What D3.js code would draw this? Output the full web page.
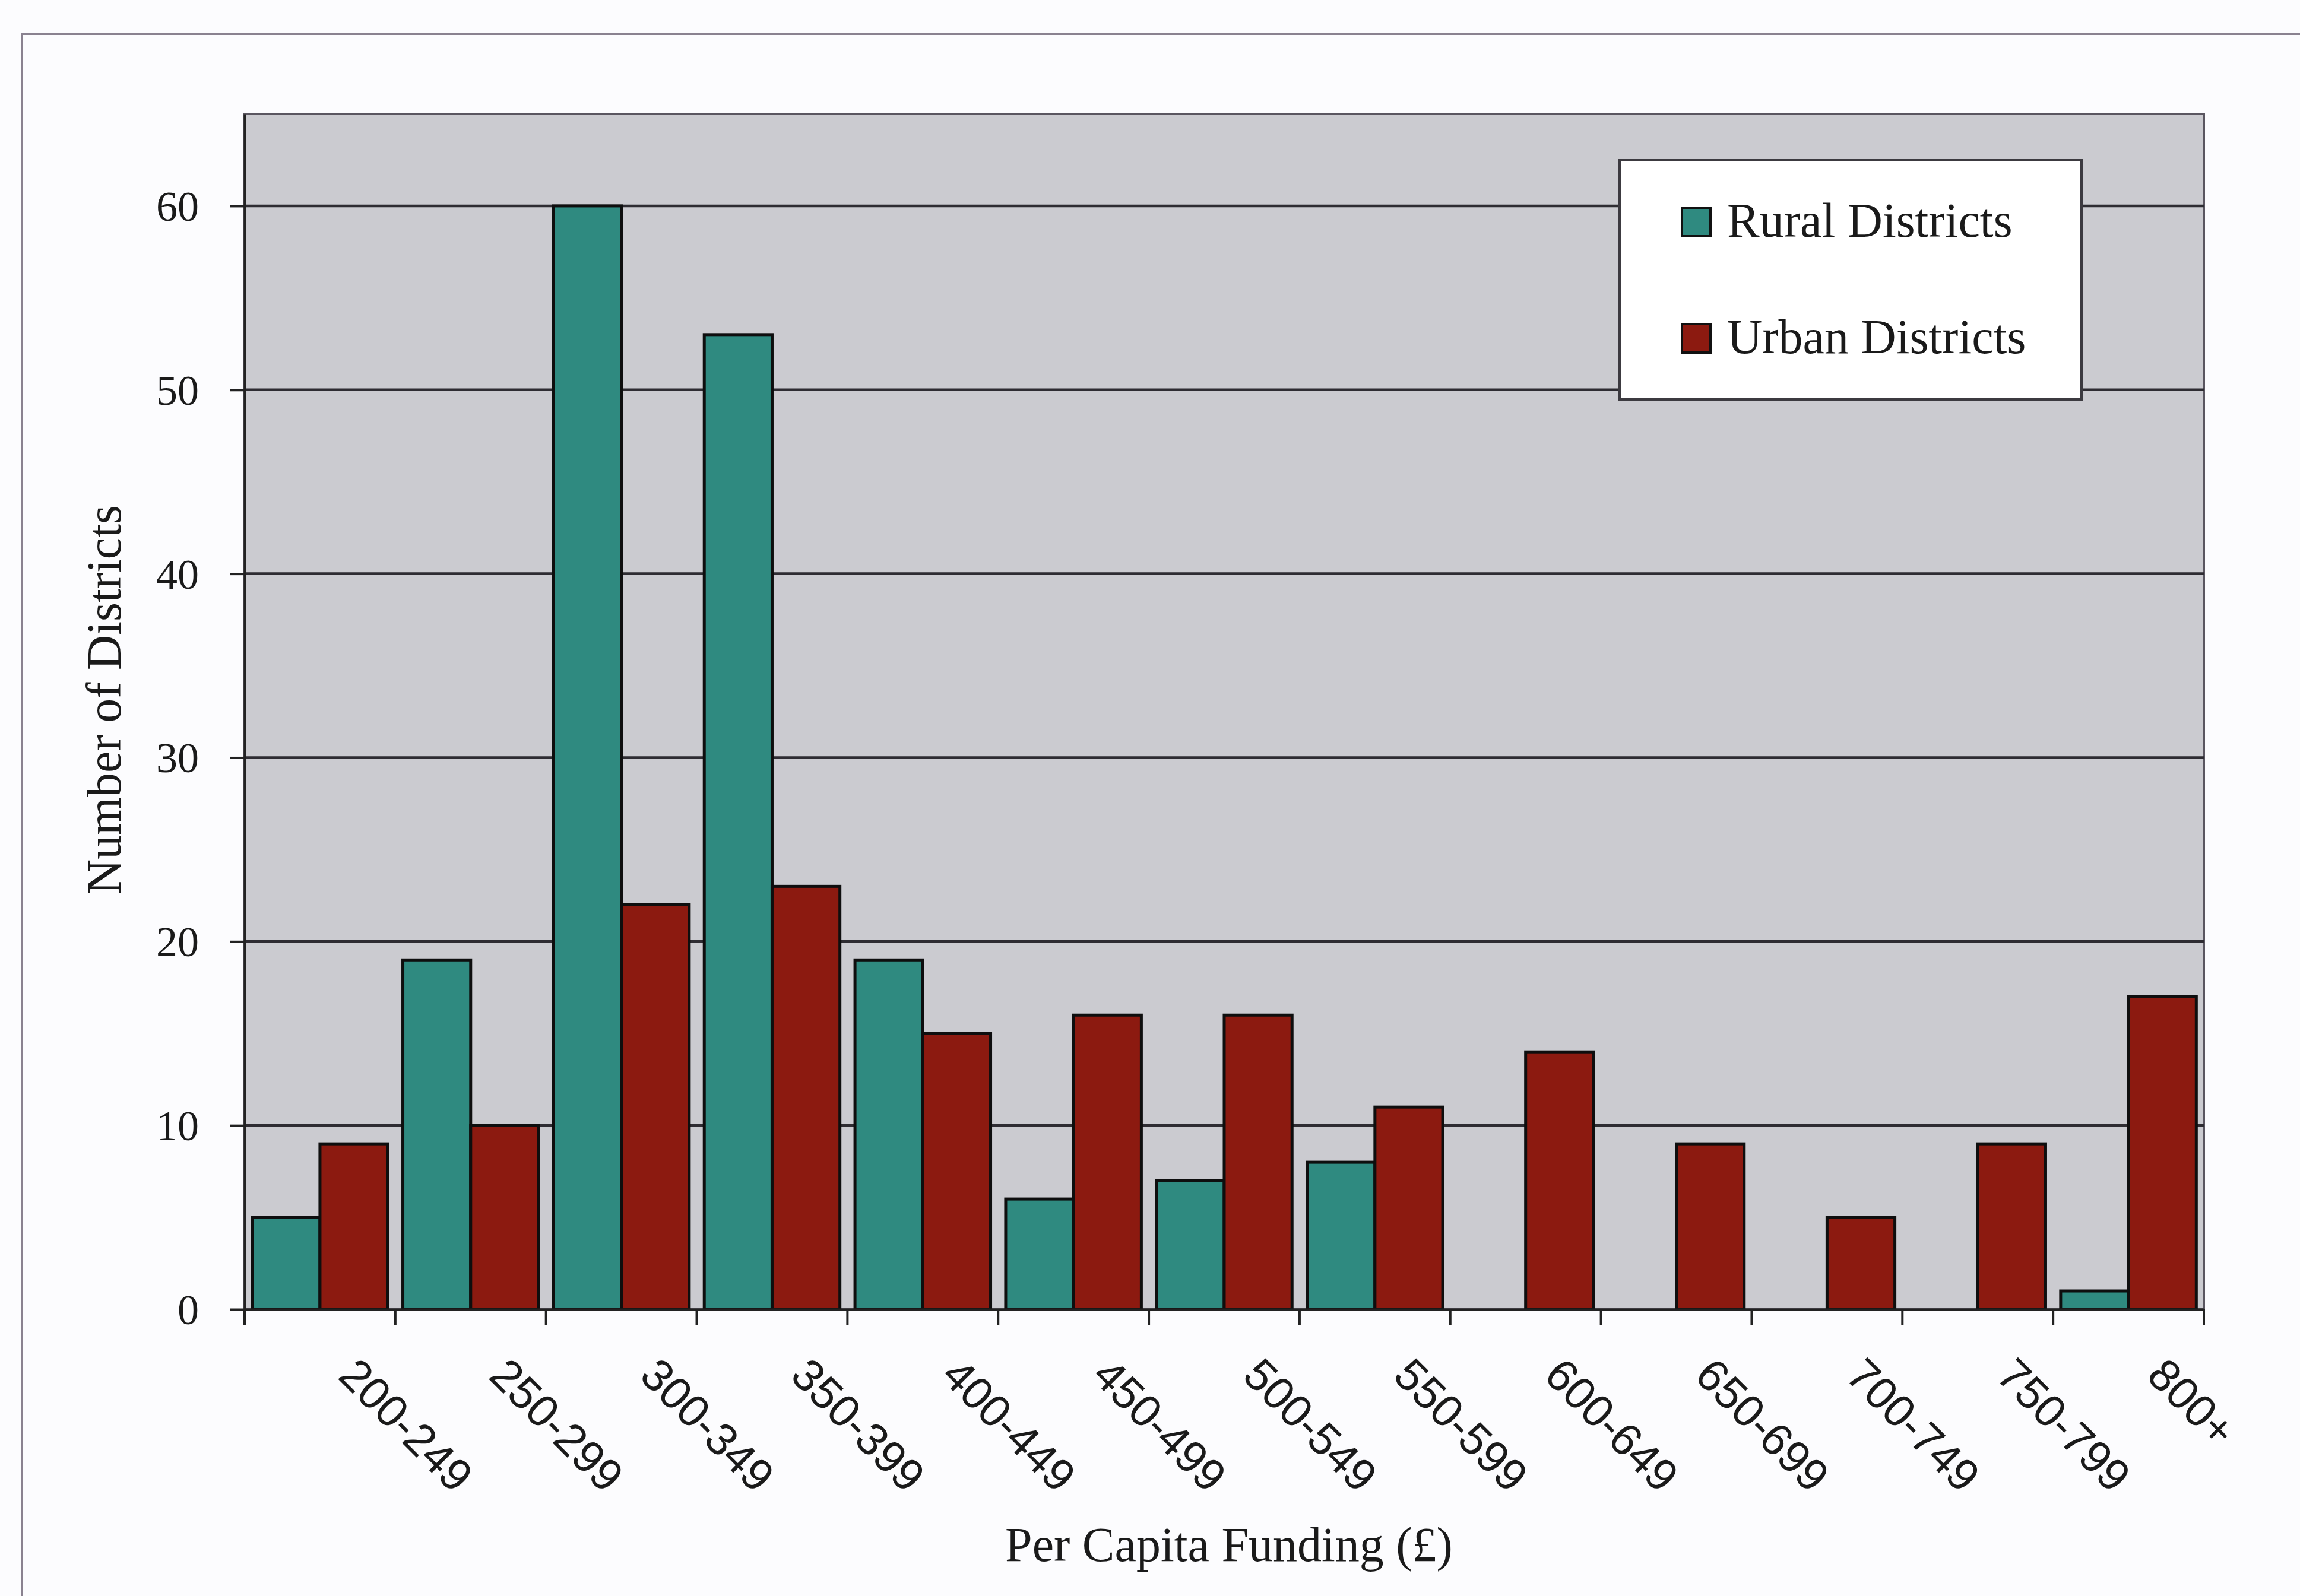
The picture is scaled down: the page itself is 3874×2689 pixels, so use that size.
<!DOCTYPE html>
<html>
<head>
<meta charset="utf-8">
<script src="https://cdn.jsdelivr.net/npm/d3@7"></script>
<style>
  html, body { margin: 0; padding: 0; background: #fcfcfe; }
  svg { display: block; }
</style>
</head>
<body>
<svg id="chart" width="3874" height="2689"></svg>
<script>
// Funding bands (per capita, £)
const categories = ["200-249", "250-299", "300-349", "350-399", "400-449", "450-499",
                    "500-549", "550-599", "600-649", "650-699", "700-749", "750-799", "800+"];
const seriesNames = ["Rural Districts", "Urban Districts"];
const ruralCounts = [5, 19, 60, 53, 19, 6, 7, 8, 0, 0, 0, 0, 1];
const urbanCounts = [9, 10, 22, 23, 15, 16, 16, 11, 14, 9, 5, 9, 17];
const yTicks = [0, 10, 20, 30, 40, 50, 60];
const xTitle = "Per Capita Funding (£)";
const yTitle = "Number of Districts";

const colors = { "Rural Districts": "#2f8a80", "Urban Districts": "#8c1a10" };
const serif = "'Liberation Serif', 'Times New Roman', serif";
const sans = "'Liberation Sans', Arial, sans-serif";

const svg = d3.select("#chart");

// outer chart frame (runs off the right and bottom edges)
svg.append("rect")
  .attr("x", 37).attr("y", 57)
  .attr("width", 3900).attr("height", 2700)
  .attr("fill", "#fcfcfe")
  .attr("stroke", "#8a8290").attr("stroke-width", 4);

const plot = { left: 412, right: 3712, top: 192, bottom: 2206 };

const x = d3.scaleBand()
  .domain(categories)
  .range([plot.left, plot.right])
  .paddingInner(0.1)
  .paddingOuter(0.05);

const x1 = d3.scaleBand()
  .domain(seriesNames)
  .range([0, x.bandwidth()]);

const y = d3.scaleLinear()
  .domain([0, 65])
  .range([plot.bottom, plot.top]);

// plot area background
svg.append("rect")
  .attr("x", plot.left).attr("y", plot.top)
  .attr("width", plot.right - plot.left).attr("height", plot.bottom - plot.top)
  .attr("fill", "#cbcbd0")
  .attr("stroke", "#5a5660").attr("stroke-width", 4);

// horizontal gridlines
svg.append("g")
  .selectAll("line")
  .data(yTicks.filter(d => d > 0))
  .join("line")
  .attr("x1", plot.left).attr("x2", plot.right)
  .attr("y1", d => y(d)).attr("y2", d => y(d))
  .attr("stroke", "#2e2c32").attr("stroke-width", 4.5);

// bars
const rows = categories.map((c, i) => ({ cat: c, values: [
  { name: seriesNames[0], value: ruralCounts[i] },
  { name: seriesNames[1], value: urbanCounts[i] }
]}));

svg.append("g")
  .selectAll("g")
  .data(rows)
  .join("g")
  .attr("transform", d => `translate(${x(d.cat)},0)`)
  .selectAll("rect")
  .data(d => d.values.filter(v => v.value > 0))
  .join("rect")
  .attr("x", d => x1(d.name))
  .attr("y", d => y(d.value))
  .attr("width", x1.bandwidth())
  .attr("height", d => y(0) - y(d.value))
  .attr("fill", d => colors[d.name])
  .attr("stroke", "#0e0e0e").attr("stroke-width", 5);

// y axis
const yAxis = svg.append("g")
  .attr("transform", `translate(${plot.left},0)`)
  .call(d3.axisLeft(y).tickValues(yTicks).tickSize(25).tickSizeOuter(0)
    .tickPadding(52).tickFormat(d3.format("d")));
yAxis.select(".domain").attr("stroke", "#222").attr("stroke-width", 4);
yAxis.selectAll(".tick line").attr("stroke", "#222").attr("stroke-width", 4);
yAxis.selectAll(".tick text")
  .attr("font-family", serif).attr("font-size", 72).attr("fill", "#1a1a1a")
  .attr("dy", "0.34em");

// x axis: labels under each band, tick marks on the band boundaries
const xAxis = svg.append("g")
  .attr("transform", `translate(0,${plot.bottom})`)
  .call(d3.axisBottom(x).tickSize(0).tickSizeOuter(0).tickPadding(0));
xAxis.select(".domain").attr("stroke", "#222").attr("stroke-width", 4);
xAxis.selectAll(".tick text")
  .attr("font-family", sans).attr("font-size", 76).attr("fill", "#1a1a1a")
  .attr("text-anchor", "start")
  .attr("x", 0).attr("y", 0).attr("dy", "0")
  .attr("transform", "translate(28,115) rotate(45)");

const boundaries = categories.map(c => x(c) - x.step() * x.paddingOuter()).concat([plot.right]);
xAxis.append("g")
  .selectAll("line")
  .data(boundaries)
  .join("line")
  .attr("x1", d => d).attr("x2", d => d)
  .attr("y1", 0).attr("y2", 26)
  .attr("stroke", "#222").attr("stroke-width", 4);

// axis titles
svg.append("text")
  .attr("x", 2070).attr("y", 2630)
  .attr("text-anchor", "middle")
  .attr("font-family", serif).attr("font-size", 82).attr("fill", "#1a1a1a")
  .text(xTitle);

svg.append("text")
  .attr("transform", "translate(203,1179) rotate(-90)")
  .attr("text-anchor", "middle")
  .attr("font-family", serif).attr("font-size", 82).attr("fill", "#1a1a1a")
  .text(yTitle);

// legend
const legend = svg.append("g");
legend.append("rect")
  .attr("x", 2728).attr("y", 270).attr("width", 778).attr("height", 403)
  .attr("fill", "#ffffff").attr("stroke", "#3c3a40").attr("stroke-width", 4);

const legendRows = legend.selectAll("g.item")
  .data(seriesNames)
  .join("g")
  .attr("class", "item")
  .attr("transform", (d, i) => `translate(2833,${350 + i * 196})`);
legendRows.append("rect")
  .attr("width", 48).attr("height", 48)
  .attr("fill", d => colors[d])
  .attr("stroke", "#111").attr("stroke-width", 4);
legendRows.append("text")
  .attr("x", 76).attr("y", 49)
  .attr("font-family", serif).attr("font-size", 82).attr("fill", "#1a1a1a")
  .text(d => d);
</script>
</body>
</html>
